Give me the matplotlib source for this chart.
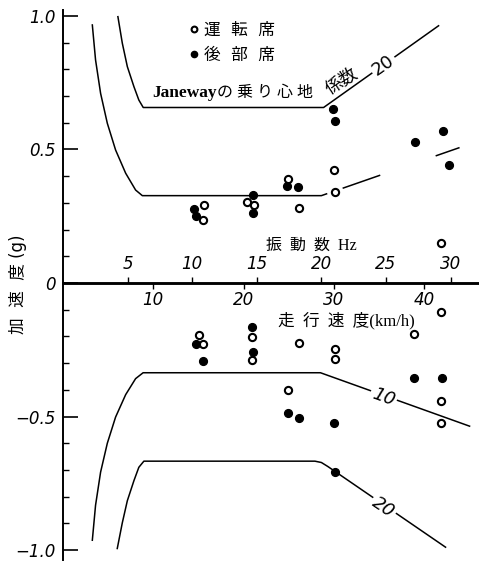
import numpy as np
import matplotlib.pyplot as plt

plt.rcParams['font.family'] = ['DejaVu Sans', 'Noto Sans CJK JP']

# measured points: vibration frequency (Hz) vs acceleration (g)
driver_hz = [10.94, 10.86, 14.21, 14.78, 17.41, 18.24, 21.00, 21.05, 29.28,
             10.52, 10.83, 14.65, 14.65, 18.29, 17.41, 21.05, 21.05, 29.23,
             27.19, 29.25, 29.25]
driver_g = [0.291, 0.236, 0.304, 0.292, 0.388, 0.280, 0.422, 0.340, 0.149,
            -0.195, -0.228, -0.201, -0.288, -0.226, -0.401, -0.247, -0.286, -0.107,
            -0.192, -0.441, -0.523]
rear_hz = [10.13, 10.32, 14.73, 14.70, 17.36, 18.21, 20.92, 21.02, 27.27, 29.40, 29.90,
           10.26, 10.83, 14.65, 14.73, 27.19, 29.30, 17.44, 18.29, 21.00, 21.05]
rear_g = [0.277, 0.251, 0.331, 0.261, 0.363, 0.358, 0.651, 0.606, 0.529, 0.568, 0.443,
          -0.228, -0.292, -0.166, -0.260, -0.355, -0.355, -0.488, -0.504, -0.523, -0.709]

# Janeway comfort curves (coefficient 10 and 20)
j10_pos_hz = [2.27, 2.52, 2.91, 3.43, 4.07, 4.85, 5.62, 6.14, 20.0, 30.64]
j10_pos_g = [0.966, 0.835, 0.710, 0.598, 0.498, 0.411, 0.348, 0.327, 0.327, 0.506]
j20_pos_hz = [4.25, 4.59, 4.98, 5.49, 5.87, 6.21, 20.17, 29.07]
j20_pos_g = [0.997, 0.898, 0.810, 0.735, 0.685, 0.657, 0.657, 0.963]
j10_neg_hz = [2.27, 2.52, 2.91, 3.43, 4.07, 4.85, 5.62, 6.20, 19.93, 31.47]
j10_neg_g = [-0.963, -0.832, -0.708, -0.600, -0.502, -0.418, -0.358, -0.336, -0.336, -0.536]
j20_neg_hz = [4.20, 4.59, 4.98, 5.49, 5.87, 6.26, 19.5, 20.0, 20.5, 29.61]
j20_neg_g = [-0.994, -0.898, -0.815, -0.740, -0.690, -0.667, -0.667, -0.672, -0.687, -0.989]

hz_ticks = [5, 10, 15, 20, 25, 30]
kmh_ticks = [10, 20, 30, 40]
g_ticks = [-1.0, -0.5, 0, 0.5, 1.0]
g_labels = ['\u22121.0', '\u22120.5', '0', '0.5', '1.0']
KMH_PER_HZ = 1.431

fig = plt.figure(figsize=(4.79, 5.63), dpi=100)
ax = fig.add_axes([63 / 479, 3 / 563, 416 / 479, 550 / 563])
ax.set_xlim(0, 32.2)
ax.set_ylim(-1.037, 1.022)

def piece(hz, g, a, b):
    xs = [a] + [h for h in hz if a < h < b] + [b]
    return xs, np.interp(xs, hz, g)

lw = 1.1
# upper 10 curve is broken in the print
for a, b in [(2.27, 20.4), (21.7, 24.5), (28.9, 30.64)]:
    xs, ys = piece(j10_pos_hz, j10_pos_g, a, b)
    ax.plot(xs, ys, color='black', lw=lw)
ax.plot(j20_pos_hz, j20_pos_g, color='black', lw=lw)
ax.plot(j10_neg_hz, j10_neg_g, color='black', lw=lw)
ax.plot(j20_neg_hz, j20_neg_g, color='black', lw=lw)

ax.plot(driver_hz, driver_g, 'o', ms=5.2, mfc='white', mec='black', mew=1.5,
        label='運  転  席', zorder=3)
ax.plot(rear_hz, rear_g, 'o', ms=5.6, mfc='black', mec='black',
        label='後  部  席', zorder=3)

ax.legend(loc='upper left', bbox_to_anchor=(181 / 479, 1 - 12 / 563),
          bbox_transform=fig.transFigure, frameon=False, handlelength=0.6,
          handletextpad=0.25, labelspacing=0.45, borderpad=0, fontsize=12,
          markerscale=0.8)

# spines / axes
for s in ['right', 'bottom']:
    ax.spines[s].set_visible(False)
ax.spines['left'].set_linewidth(1.4)
ax.spines['top'].set_position(('data', 0))
ax.spines['top'].set_linewidth(1.8)
ax.xaxis.tick_top()
ax.set_xticks(hz_ticks)
ax.set_xticklabels([str(t) for t in hz_ticks], fontsize=12, style='italic')
ax.tick_params(axis='x', direction='out', length=4, width=1, pad=3)

ax.set_yticks(g_ticks)
ax.set_yticklabels(g_labels, fontsize=12, style='italic')
ax.set_yticks(np.arange(-1.0, 1.01, 0.1), minor=True)
ax.tick_params(axis='y', which='major', direction='in', length=11, width=1.2, pad=5)
ax.tick_params(axis='y', which='minor', direction='in', length=4, width=1)

zero_loc = (0 - ax.get_ylim()[0]) / (ax.get_ylim()[1] - ax.get_ylim()[0])
sec = ax.secondary_xaxis(zero_loc, functions=(lambda f: f * KMH_PER_HZ,
                                                lambda v: v / KMH_PER_HZ))
sec.set_alignment('bottom')
sec.set_xticks(kmh_ticks)
sec.set_xticklabels([str(t) for t in kmh_ticks], fontsize=12, style='italic')
sec.tick_params(axis='x', direction='out', length=4, width=1, pad=2)
sec.spines['bottom'].set_linewidth(1.8)

# texts
serif = ['Liberation Serif', 'Noto Sans CJK JP']
t1 = ax.text(6.93, 0.712, 'Janeway', fontsize=12.5, family=serif,
             fontweight='bold', ha='left', va='center')
ax.annotate('の 乗 り 心 地', xy=(1, 0.5), xycoords=t1, fontsize=11.5,
            family=serif, ha='left', va='center')
ax.text(21.6, 0.755, '係数', fontsize=12.5, family=serif, rotation=33,
        ha='center', va='center')
box = dict(fc='white', ec='none', pad=1.5)
ax.text(24.8, 0.816, '20', fontsize=13, rotation=35, ha='center', va='center',
        bbox=box)
ax.text(24.8, -0.427, '10', fontsize=13, style='italic', rotation=-20,
        ha='center', va='center', bbox=box)
ax.text(24.8, -0.839, '20', fontsize=13, style='italic', rotation=-34,
        ha='center', va='center', bbox=box)
ax.text(19.25, 0.139, '振  動  数  Hz', fontsize=11.5, family=serif,
        ha='center', va='center')
ax.text(21.9, -0.139, '走  行  速  度(km/h)', fontsize=12, family=serif,
        ha='center', va='center')
fig.text(18 / 479, 1 - 284 / 563, '加  速  度 (g)', fontsize=12, rotation=90,
         ha='center', va='center')

fig.savefig('out.png', dpi=100)
